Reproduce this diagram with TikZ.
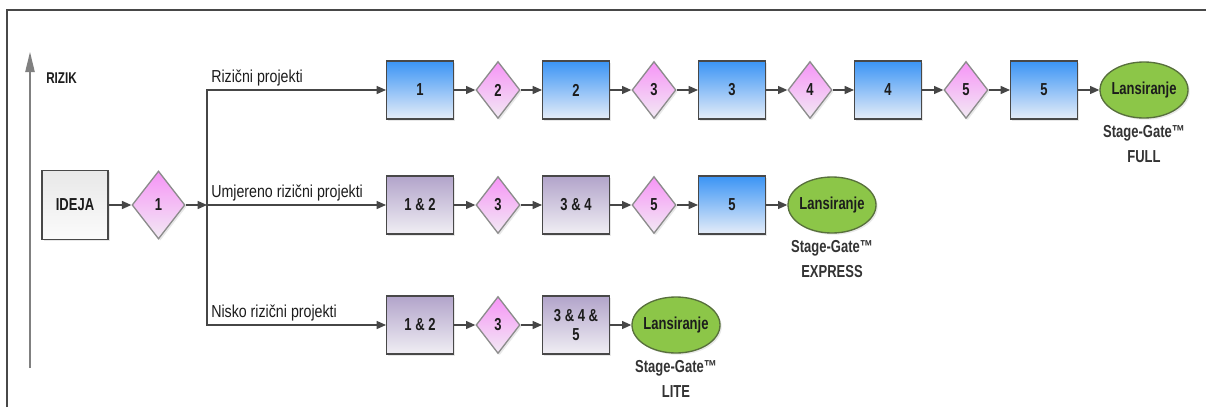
\documentclass[tikz,border=0pt]{standalone}
\usepackage{fontspec}
\setmainfont{Liberation Sans}[FakeStretch=0.75]
\newfontfamily\labelfont{Liberation Sans}[FakeStretch=0.82]
\usetikzlibrary{positioning,shapes.geometric,arrows.meta,shadows}

\definecolor{bluetop}{RGB}{58,148,245}
\definecolor{bluebot}{RGB}{230,237,248}
\definecolor{purptop}{RGB}{178,164,202}
\definecolor{purpbot}{RGB}{240,238,244}
\definecolor{gatetop}{RGB}{246,148,246}
\definecolor{gatebot}{RGB}{242,234,244}
\definecolor{ideatop}{RGB}{232,232,232}
\definecolor{ideabot}{RGB}{251,251,251}
\definecolor{launchgreen}{RGB}{140,198,72}
\definecolor{greenline}{RGB}{88,112,60}
\definecolor{linegray}{RGB}{72,72,72}
\definecolor{gategray}{RGB}{140,140,140}
\definecolor{arrowgray}{RGB}{70,70,70}
\definecolor{textdark}{RGB}{28,28,28}

\tikzstyle{base} = [draw=linegray, line width=1pt, inner sep=0pt, align=center, text=textdark, font=\fontsize{13}{14}\selectfont\bfseries, drop shadow={shadow xshift=1.3pt, shadow yshift=-1.3pt, opacity=0.18}]
\tikzstyle{stagebox} = [base, rectangle, minimum width=50pt, minimum height=43.5pt, top color=bluetop, bottom color=bluebot]
\tikzstyle{mergedbox} = [stagebox, top color=purptop, bottom color=purpbot]
\tikzstyle{idea} = [base, rectangle, minimum width=49.5pt, minimum height=51.75pt, top color=ideatop, bottom color=ideabot]
\tikzstyle{gatediamond} = [base, diamond, draw=gategray, minimum width=33pt, minimum height=42.75pt, top color=gatetop, bottom color=gatebot]
\tikzstyle{launch} = [base, ellipse, draw=greenline, fill=launchgreen, inner xsep=-6pt, minimum width=66pt, minimum height=42pt]
\tikzstyle{gatename} = [inner sep=0pt, align=center, text=textdark!90, font=\fontsize{13}{18.5}\selectfont\bfseries]
\tikzstyle{pathlabel} = [anchor=south west, inner sep=1pt, xshift=2pt, yshift=2pt, text=textdark, font=\labelfont\fontsize{13}{14}\selectfont]
\tikzstyle{conn} = [draw=arrowgray, line width=1pt, -{Triangle[length=7pt,width=6pt]}]

\begin{document}
\begin{tikzpicture}[x=0.75pt, y=-0.75pt]
\useasboundingbox (0,0) rectangle (1206,407);
\draw[linegray, line width=1.2pt] (7,407) -- (7,10) -- (1206,10);

% risk axis
\coordinate (axisbot) at (30,368);
\coordinate (axistop) at (30,52);
\draw[draw=gray, line width=1pt, -{Triangle[length=15pt,width=7pt]}] (axisbot) -- (axistop);
\node[anchor=west, inner sep=0pt, text=textdark, font=\fontsize{11.7}{13}\selectfont\bfseries] (rizik) at (46,78) {RIZIK};

\node[idea] (ideja) at (75,205) {IDEJA};
\node[gatediamond, minimum width=39.75pt, minimum height=51pt, right=17pt of ideja] (g1) {1};
\coordinate (split) at (207,205);

% full
\node[stagebox] (r1) at (420,90) {1};
\node[gatediamond, right=16pt of r1] (rg2) {2};
\node[stagebox, right=16pt of rg2] (r2) {2};
\node[gatediamond, right=16pt of r2] (rg3) {3};
\node[stagebox, right=16pt of rg3] (r3) {3};
\node[gatediamond, right=16pt of r3] (rg4) {4};
\node[stagebox, right=16pt of rg4] (r4) {4};
\node[gatediamond, right=16pt of r4] (rg5) {5};
\node[stagebox, right=16pt of rg5] (r5) {5};
\node[launch, right=16pt of r5] (rl) {Lansiranje};
\node[gatename, below=5pt of rl] (rname) {Stage-Gate™\\FULL};

% express
\node[mergedbox] (m1) at (420,205) {1 \& 2};
\node[gatediamond, right=16pt of m1] (mg3) {3};
\node[mergedbox, right=16pt of mg3] (m2) {3 \& 4};
\node[gatediamond, right=16pt of m2] (mg5) {5};
\node[stagebox, right=16pt of mg5] (m3) {5};
\node[launch, right=16pt of m3] (ml) {Lansiranje};
\node[gatename, below=5pt of ml] (mname) {Stage-Gate™\\EXPRESS};

% lite
\node[mergedbox] (l1) at (420,325) {1 \& 2};
\node[gatediamond, right=16pt of l1] (lg3) {3};
\node[mergedbox, right=16pt of lg3] (l2) {3 \& 4 \&\\5};
\node[launch, right=16pt of l2] (ll) {Lansiranje};
\node[gatename, below=5pt of ll] (lname) {Stage-Gate™\\LITE};

\draw[conn] (ideja) -- (g1);
\draw[conn] (g1) -- (split);
\draw[conn] (split) |- (r1);
\draw[conn] (split) -- (m1);
\draw[conn] (split) |- (l1);
\node[pathlabel] (rlabel) at (split |- r1) {Rizični projekti};
\node[pathlabel] (mlabel) at (split) {Umjereno rizični projekti};
\node[pathlabel] (llabel) at (split |- l1) {Nisko rizični projekti};

\foreach \a/\b in {r1/rg2, rg2/r2, r2/rg3, rg3/r3, r3/rg4, rg4/r4, r4/rg5, rg5/r5, r5/rl,
  m1/mg3, mg3/m2, m2/mg5, mg5/m3, m3/ml, l1/lg3, lg3/l2, l2/ll}
  \draw[conn] (\a) -- (\b);
\end{tikzpicture}
\end{document}
